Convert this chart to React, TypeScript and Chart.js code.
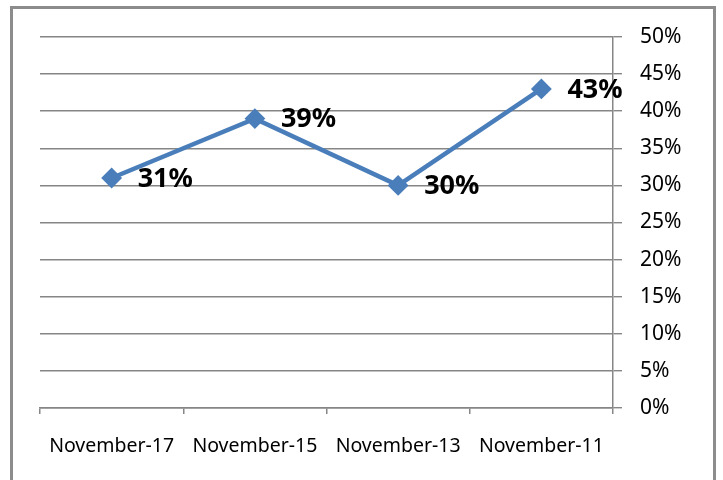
import React, { useEffect, useRef } from "react";
import { Chart, registerables } from "chart.js";

Chart.register(...registerables);

const categories = ["November-17", "November-15", "November-13", "November-11"];
const values = [31, 39, 30, 43];
const yTicks = [0, 5, 10, 15, 20, 25, 30, 35, 40, 45, 50];

const LINE_COLOR = "#4a7ebb";
const GRID_COLOR = "#868686";

const labelPlugin = {
  id: "pointLabels",
  afterDatasetsDraw(chart: any) {
    const ctx = chart.ctx;
    const meta = chart.getDatasetMeta(0);
    ctx.save();
    ctx.font = "bold 27px 'Noto Sans'";
    ctx.fillStyle = "#000";
    ctx.textAlign = "left";
    ctx.textBaseline = "middle";
    meta.data.forEach((pt: any, i: number) => {
      ctx.fillText(values[i] + "%", pt.x + 26, pt.y + 1);
    });
    ctx.restore();
  },
};

export default function App() {
  const ref = useRef<HTMLCanvasElement>(null);
  useEffect(() => {
    if (!ref.current) return;
    const chart = new Chart(ref.current, {
      type: "line",
      data: {
        labels: categories,
        datasets: [
          {
            data: values,
            borderColor: LINE_COLOR,
            backgroundColor: LINE_COLOR,
            borderWidth: 4.5,
            pointStyle: "rectRot",
            pointRadius: 9,
            pointBorderWidth: 2,
            pointBorderColor: LINE_COLOR,
            pointBackgroundColor: LINE_COLOR,
            tension: 0,
          },
        ],
      },
      options: {
        animation: false,
        responsive: false,
        maintainAspectRatio: false,
        layout: { padding: { left: 40, top: 37, right: 0, bottom: 0 } },
        plugins: {
          legend: { display: false },
          tooltip: { enabled: false },
          title: { display: false },
        },
        scales: {
          x: {
            type: "category",
            offset: true,
            grid: {
              offset: true,
              drawOnChartArea: false,
              drawTicks: true,
              tickLength: 6,
              color: GRID_COLOR,
              lineWidth: 1.5,
            },
            border: { display: true, color: GRID_COLOR, width: 1.5 },
            ticks: {
              color: "#000",
              font: { family: "'Noto Sans'", size: 19.5 },
              padding: 21,
              maxRotation: 0,
              autoSkip: false,
            },
            afterFit(scale: any) {
              scale.height = 72;
            },
          },
          y: {
            position: "right",
            min: 0,
            max: 50,
            afterBuildTicks(scale: any) {
              scale.ticks = yTicks.map((v) => ({ value: v }));
            },
            grid: {
              drawOnChartArea: true,
              drawTicks: true,
              tickLength: 9,
              color: GRID_COLOR,
              lineWidth: 1.4,
            },
            border: { display: true, color: GRID_COLOR, width: 1.5 },
            ticks: {
              color: "#000",
              font: { family: "'Noto Sans'", size: 21 },
              padding: 18,
              callback: (v: any) => v + "%",
            },
            afterFit(scale: any) {
              scale.width = 110;
            },
          },
        },
      },
      plugins: [labelPlugin],
    });
    return () => chart.destroy();
  }, []);

  return (
    <div style={{ position: "absolute", left: 0, top: 0, width: 723, height: 480, background: "#fff" }}>
      <div
        style={{
          position: "absolute",
          left: 10,
          top: 6,
          width: 706,
          height: 490,
          boxSizing: "border-box",
          border: "3px solid #8c8c8c",
        }}
      />
      <canvas
        ref={ref}
        width={723}
        height={480}
        style={{ position: "absolute", left: 0, top: 0, width: 723, height: 480 }}
      />
    </div>
  );
}
